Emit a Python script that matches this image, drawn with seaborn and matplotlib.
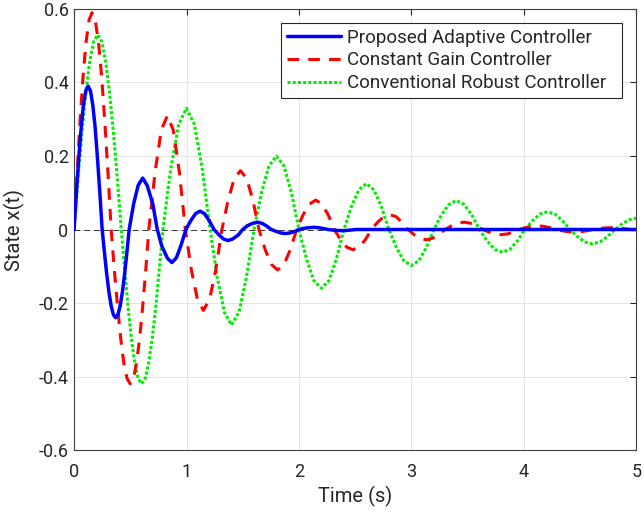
import pandas as pd
import seaborn as sns
import matplotlib.pyplot as plt

# values (extrema, zero crossings and points between)
t_adaptive = [0.00, 0.021, 0.042, 0.063, 0.083, 0.104, 0.125, 0.146, 0.167, 0.188, 0.208, 0.229, 0.25,
              0.27, 0.29, 0.31, 0.33, 0.35, 0.37, 0.39, 0.41, 0.43, 0.45, 0.47, 0.49,
              0.53, 0.57, 0.61, 0.65, 0.70, 0.74,
              0.78, 0.83, 0.87, 0.91, 0.95, 0.995,
              1.04, 1.08, 1.12, 1.16, 1.20, 1.245,
              1.29, 1.33, 1.37, 1.41, 1.46, 1.50,
              1.54, 1.59, 1.63, 1.67, 1.71, 1.755,
              1.80, 1.84, 1.88, 1.92, 1.96, 2.00,
              2.04, 2.09, 2.13, 2.17, 2.21, 2.26,
              2.30, 2.34, 2.38, 2.42, 2.46, 2.51,
              2.80, 3.50, 4.20, 5.00]
x_adaptive = [0.00, 0.101, 0.195, 0.276, 0.338, 0.377, 0.39, 0.377, 0.338, 0.276, 0.195, 0.101, 0.00,
              -0.062, -0.12, -0.17, -0.208, -0.232, -0.24, -0.232, -0.208, -0.17, -0.12, -0.062, 0.00,
              0.07, 0.12, 0.14, 0.12, 0.07, 0.00,
              -0.045, -0.078, -0.09, -0.077, -0.044, 0.00,
              0.025, 0.043, 0.05, 0.043, 0.025, 0.00,
              -0.015, -0.026, -0.03, -0.026, -0.015, 0.00,
              0.01, 0.017, 0.02, 0.017, 0.01, 0.00,
              -0.0055, -0.0095, -0.011, -0.0095, -0.0055, 0.00,
              0.003, 0.005, 0.006, 0.005, 0.003, 0.00,
              -0.0015, -0.0026, -0.003, -0.0026, -0.0015, 0.00,
              0.0, 0.0, 0.0, 0.0]

t_constant = [0.00, 0.027, 0.053, 0.08, 0.107, 0.133, 0.16, 0.188, 0.217, 0.245, 0.273, 0.302, 0.33,
              0.358, 0.387, 0.415, 0.443, 0.472, 0.50, 0.528, 0.555, 0.583, 0.61, 0.638, 0.665,
              0.72, 0.775, 0.83, 0.883, 0.937, 0.99,
              1.043, 1.097, 1.15, 1.205, 1.26, 1.315,
              1.37, 1.425, 1.48, 1.535, 1.59, 1.645,
              1.70, 1.755, 1.81, 1.867, 1.923, 1.98,
              2.037, 2.093, 2.15, 2.205, 2.26, 2.315,
              2.37, 2.425, 2.48, 2.535, 2.59, 2.645,
              2.70, 2.755, 2.81, 2.863, 2.917, 2.97,
              3.023, 3.077, 3.13, 3.187, 3.243, 3.30,
              3.357, 3.413, 3.47, 3.525, 3.58, 3.635,
              3.69, 3.745, 3.80, 3.853, 3.907, 3.96,
              4.013, 4.067, 4.12, 4.175, 4.23, 4.285,
              4.34, 4.395, 4.45, 4.505, 4.56, 4.615,
              4.67, 4.725, 4.78, 4.835, 4.89, 4.945, 5.00]
x_constant = [0.00, 0.153, 0.295, 0.417, 0.511, 0.57, 0.59, 0.57, 0.511, 0.417, 0.295, 0.153, 0.00,
              -0.109, -0.21, -0.297, -0.364, -0.406, -0.42, -0.406, -0.364, -0.297, -0.21, -0.109, 0.00,
              0.155, 0.27, 0.31, 0.27, 0.155, 0.00,
              -0.11, -0.19, -0.22, -0.19, -0.11, 0.00,
              0.08, 0.139, 0.16, 0.139, 0.08, 0.00,
              -0.055, -0.095, -0.11, -0.095, -0.055, 0.00,
              0.04, 0.069, 0.08, 0.069, 0.04, 0.00,
              -0.028, -0.048, -0.055, -0.048, -0.028, 0.00,
              0.02, 0.035, 0.04, 0.035, 0.02, 0.00,
              -0.014, -0.024, -0.028, -0.024, -0.014, 0.00,
              0.01, 0.017, 0.02, 0.017, 0.01, 0.00,
              -0.007, -0.012, -0.014, -0.012, -0.007, 0.00,
              0.005, 0.0087, 0.01, 0.0087, 0.005, 0.00,
              -0.0035, -0.006, -0.007, -0.006, -0.0035, 0.00,
              0.0025, 0.0043, 0.005, 0.0043, 0.0025, 0.00, -0.001]

t_robust = [0.00, 0.035, 0.07, 0.105, 0.14, 0.175, 0.21, 0.245, 0.28, 0.315, 0.35, 0.385, 0.42,
            0.45, 0.48, 0.51, 0.54, 0.57, 0.60, 0.632, 0.663, 0.695, 0.727, 0.758, 0.79,
            0.86, 0.93, 1.00, 1.07, 1.14, 1.21,
            1.273, 1.337, 1.40, 1.467, 1.533, 1.60,
            1.667, 1.733, 1.80, 1.867, 1.933, 2.00,
            2.067, 2.133, 2.20, 2.267, 2.333, 2.40,
            2.467, 2.533, 2.60, 2.667, 2.733, 2.80,
            2.867, 2.933, 3.00, 3.067, 3.133, 3.20,
            3.267, 3.333, 3.40, 3.468, 3.537, 3.605,
            3.673, 3.742, 3.81, 3.877, 3.943, 4.01,
            4.077, 4.143, 4.21, 4.277, 4.343, 4.41,
            4.477, 4.543, 4.61, 4.677, 4.743, 4.81,
            4.877, 4.943, 5.00]
x_robust = [0.00, 0.137, 0.265, 0.375, 0.459, 0.512, 0.53, 0.512, 0.459, 0.375, 0.265, 0.137, 0.00,
            -0.109, -0.21, -0.297, -0.364, -0.406, -0.42, -0.406, -0.364, -0.297, -0.21, -0.109, 0.00,
            0.165, 0.286, 0.33, 0.286, 0.165, 0.00,
            -0.13, -0.225, -0.26, -0.225, -0.13, 0.00,
            0.10, 0.173, 0.20, 0.173, 0.10, 0.00,
            -0.08, -0.139, -0.16, -0.139, -0.08, 0.00,
            0.0625, 0.108, 0.125, 0.108, 0.0625, 0.00,
            -0.049, -0.085, -0.098, -0.085, -0.049, 0.00,
            0.04, 0.068, 0.079, 0.068, 0.04, 0.00,
            -0.031, -0.054, -0.062, -0.054, -0.031, 0.00,
            0.024, 0.042, 0.048, 0.042, 0.024, 0.00,
            -0.0195, -0.034, -0.039, -0.034, -0.0195, 0.00,
            0.016, 0.027, 0.031]

labels = ['Proposed Adaptive Controller', 'Constant Gain Controller', 'Conventional Robust Controller']
x_ticks = [0, 1, 2, 3, 4, 5]
y_ticks = [-0.6, -0.4, -0.2, 0, 0.2, 0.4, 0.6]
y_tick_labels = ['-0.6', '-0.4', '-0.2', '0', '0.2', '0.4', '0.6']

sns.set_style('whitegrid')
plt.rcParams['font.family'] = ['Roboto', 'DejaVu Sans']

fig = plt.figure(figsize=(6.44, 5.14), dpi=100)
ax = fig.add_axes([0.115, 0.1245, 0.873, 0.858])

ax.axhline(0, color='#333333', lw=0.7, ls=(0, (6, 4)), zorder=1)

sns.lineplot(x=t_adaptive, y=x_adaptive, ax=ax, color='#0000ff', lw=2.5, label=labels[0],
             estimator=None, sort=False, zorder=4)
sns.lineplot(x=t_constant, y=x_constant, ax=ax, color='#ff0000', lw=2.2, label=labels[1],
             estimator=None, sort=False, zorder=3)
ax.lines[-1].set_dashes([3.8, 3])
sns.lineplot(x=t_robust, y=x_robust, ax=ax, color='#00ee00', lw=2.2, label=labels[2],
             estimator=None, sort=False, zorder=2)
ax.lines[-1].set_dashes([1, 0.7])

ax.set_xlim(0, 5)
ax.set_ylim(-0.6, 0.6)
ax.set_xticks(x_ticks)
ax.set_yticks(y_ticks)
ax.set_yticklabels(y_tick_labels)
ax.tick_params(direction='in', length=4, width=0.8, colors='#262626', labelsize=13,
               top=True, right=True, pad=4)
ax.tick_params(axis='x', pad=9)
ax.grid(True, color='#e0e0e0', lw=0.6)
for sp in ax.spines.values():
    sp.set_visible(True)
    sp.set_color('#404040')
    sp.set_linewidth(0.8)

ax.set_xlabel('Time (s)', fontsize=14.5, color='#262626', labelpad=4)
ax.set_ylabel('State x(t)', fontsize=14.5, color='#262626', labelpad=10)

# MATLAB-like legend box: fixed width, handles on the left
leg = ax.legend(loc='upper left', bbox_to_anchor=(0.368, 0.5, 0.607, 0.468), mode='expand',
                borderaxespad=0, fontsize=13.5, handlelength=2.9, handletextpad=0.3,
                labelspacing=0.25, borderpad=0.3, frameon=True, fancybox=False, framealpha=1)
leg.get_frame().set_edgecolor('#262626')
leg.get_frame().set_linewidth(0.8)

plt.savefig('out.png', dpi=100)
